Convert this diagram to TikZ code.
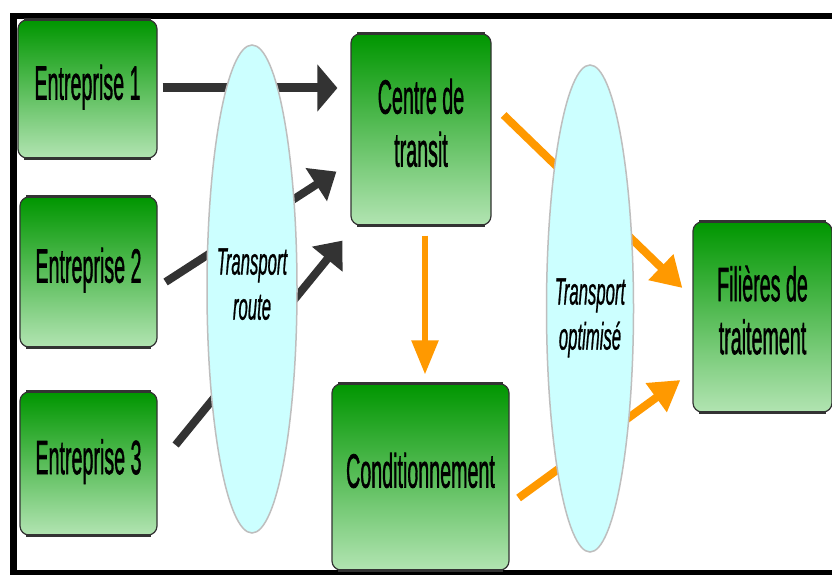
\documentclass[tikz,border=0pt]{standalone}
\usepackage{fontspec}
\setmainfont{Liberation Sans}
\newfontfamily\boxfont{Liberation Sans}[FakeBold=1.6]
\newfontfamily\ovfont{Liberation Sans}[FakeBold=1.2]
\usepackage{graphicx}
\usetikzlibrary{arrows.meta,shapes.geometric}
\definecolor{dk}{HTML}{333333}
\definecolor{orng}{HTML}{FF9900}
\definecolor{gtop}{RGB}{0,150,0}
\definecolor{gbot}{RGB}{178,228,178}
\definecolor{cy}{RGB}{204,255,255}
\definecolor{eg}{RGB}{190,190,190}
\newcommand\sqtext[2][0.41]{\scalebox{#1}[1]{\begin{tabular}{@{}c@{}}#2\end{tabular}}}
\begin{document}
\begin{tikzpicture}[x=1pt,y=-1pt,
 box/.style={rectangle, rounded corners=9pt, draw=dk, line width=1.2pt, top color=gtop, bottom color=gbot, inner sep=0pt, font=\boxfont\fontsize{48}{53}\selectfont},
 oval/.style={ellipse, fill=cy, draw=eg, line width=1.5pt, inner sep=0pt},
 ovtext/.style={inner sep=0pt, font=\ovfont\fontsize{38}{45}\selectfont\itshape},
 darr/.style={draw=dk, line width=8pt, -{Triangle[length=24pt,width=38pt]}},
 oarr/.style={draw=orng, line width=8pt, -{Triangle[length=30pt,width=34pt]}},
]
\useasboundingbox (0,0) rectangle (832,575);
\fill[white] (0,0) rectangle (832,575);
\draw[line width=6.5pt] (13.5,16) rectangle (850,573);

\node[box, minimum width=139pt, minimum height=138pt] (e1) at (87.5,89) {\sqtext{Entreprise 1}};
\node[box, minimum width=137pt, minimum height=150pt] (e2) at (88.5,272) {\sqtext{Entreprise 2}};
\node[box, minimum width=137pt, minimum height=143pt] (e3) at (88.5,463.5) {\sqtext{Entreprise 3}};
\node[box, minimum width=140pt, minimum height=191pt] (ct) at (421,129.5) {\sqtext{Centre de\\transit}};
\node[box, minimum width=177pt, minimum height=186pt] (cd) at (420.5,477) {\sqtext{Conditionnement}};
\node[box, minimum width=139pt, minimum height=190pt] (fl) at (762.5,317) {\sqtext{Filières de\\traitement}};
\foreach \n in {e1,e2,e3,ct,cd,fl}{
  \draw[dk, line width=3.5pt] ([xshift=7pt]\n.north west) -- ([xshift=-7pt]\n.north east);
  \draw[dk, line width=3.5pt] ([xshift=7pt]\n.south west) -- ([xshift=-7pt]\n.south east);
}

\draw[darr, line width=9pt, -{Triangle[length=20pt,width=46pt]}] ([shift={(5,-1)}]e1.east) -- ([shift={(-13,-41.5)}]ct.west);
\draw[darr] ([shift={(8,10)}]e2.east) -- ([shift={(-14,-54)}]ct.south west);
\draw[darr] ([shift={(18,-18.5)}]e3.east) -- ([shift={(-8,15)}]ct.south west);

\draw[oarr] ([shift={(12,-14.5)}]ct.east) -- ([shift={(-10,-29)}]fl.west);
\draw[oarr] ([shift={(9,21)}]cd.east) -- ([shift={(-12,63)}]fl.west);
\draw[oarr, line width=5.5pt, -{Triangle[length=34pt,width=26pt]}] ([shift={(4,10)}]ct.south) -- ([shift={(4.5,-9)}]cd.north);

\node[oval, minimum width=90pt, minimum height=488pt] (tr) at (252,289) {};
\node[ovtext] (trt) at (252,288) {\sqtext[0.44]{Transport\\route}};
\node[oval, minimum width=87pt, minimum height=487pt] (to) at (590,308.5) {};
\node[ovtext] (tot) at (590,318) {\sqtext[0.44]{Transport\\optimisé}};
\end{tikzpicture}
\end{document}
